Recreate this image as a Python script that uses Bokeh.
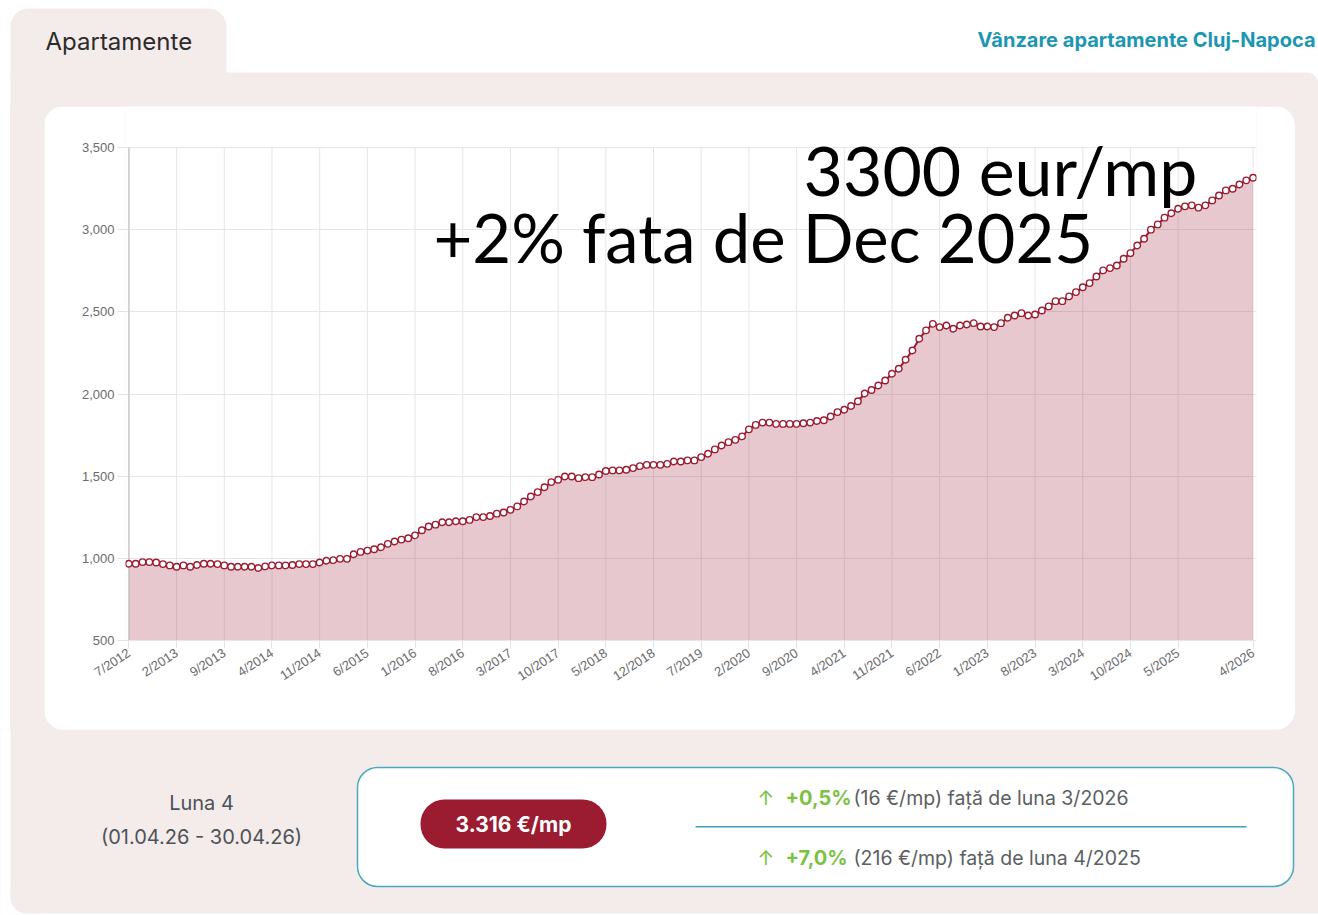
from bokeh.plotting import figure
from bokeh.layouts import column, row
from bokeh.models import (Range1d, FixedTicker, NumeralTickFormatter, BoxAnnotation,
                          Label, ColumnDataSource, Spacer)
from bokeh.embed import file_html
from bokeh.resources import INLINE

# ---------------- data (EUR / m², monthly, 7/2012 .. 4/2026) ----------------
prices = [
    967, 967, 977, 977, 975, 965, 957, 949, 957, 949, 959, 967,          # 7/2012-6/2013
    967, 965, 957, 949, 949, 949, 949, 941, 951, 957, 957, 957,          # 7/2013-6/2014
    959, 965, 965, 965, 975, 985, 989, 997, 997, 1025, 1039, 1047,       # 7/2014-6/2015
    1055, 1067, 1088, 1102, 1114, 1122, 1140, 1171, 1194, 1205, 1220, 1220,  # 7/2015-6/2016
    1226, 1226, 1234, 1251, 1251, 1258, 1272, 1279, 1295, 1316, 1346, 1376,  # 7/2016-6/2017
    1403, 1433, 1464, 1478, 1498, 1498, 1488, 1494, 1494, 1510, 1531, 1535,  # 7/2017-6/2018
    1535, 1539, 1549, 1561, 1569, 1569, 1569, 1575, 1589, 1589, 1596, 1596,  # 7/2018-6/2019
    1616, 1636, 1663, 1687, 1707, 1721, 1742, 1785, 1812, 1826, 1826, 1818,  # 7/2019-6/2020
    1818, 1818, 1818, 1822, 1826, 1836, 1840, 1863, 1890, 1904, 1927, 1956,  # 7/2020-6/2021
    2003, 2024, 2052, 2082, 2123, 2154, 2208, 2265, 2336, 2387, 2427, 2407,  # 7/2021-6/2022
    2417, 2397, 2417, 2423, 2431, 2411, 2411, 2407, 2431, 2464, 2478, 2492,  # 7/2022-6/2023
    2478, 2484, 2508, 2533, 2565, 2565, 2594, 2620, 2650, 2675, 2715, 2752,  # 7/2023-6/2024
    2766, 2782, 2823, 2857, 2904, 2945, 3000, 3032, 3073, 3100, 3127, 3142,  # 7/2024-6/2025
    3148, 3134, 3148, 3178, 3208, 3239, 3249, 3275, 3300, 3316,              # 7/2025-4/2026
]

# month label of every point
months = []
yy, mm = 2012, 7
for _ in prices:
    months.append(f"{mm}/{yy}")
    mm += 1
    if mm > 12:
        mm, yy = 1, yy + 1

x_tick_labels = ["7/2012", "2/2013", "9/2013", "4/2014", "11/2014", "6/2015", "1/2016",
                 "8/2016", "3/2017", "10/2017", "5/2018", "12/2018", "7/2019", "2/2020",
                 "9/2020", "4/2021", "11/2021", "6/2022", "1/2023", "8/2023", "3/2024",
                 "10/2024", "5/2025", "4/2026"]
y_ticks = [500, 1000, 1500, 2000, 2500, 3000, 3500]

tab_title = "Apartamente"
link_text = "Vânzare apartamente Cluj-Napoca"
headline_1 = "3300 eur/mp"
headline_2 = "+2% fata de Dec 2025"
current_price = "3.316 €/mp"
period_title = "Luna 4"
period_range = "(01.04.26 - 30.04.26)"
change_pct = ["+0,5%", "+7,0%"]
change_txt = ["(16 €/mp) față de luna 3/2026", "(216 €/mp) față de luna 4/2025"]

# ---------------- styling ----------------
RED = "#9b1b31"
PINK = "#f4eceb"
TEAL = "#1d96b2"
GREEN = "#7cc242"
GREY_TXT = "#5b5e62"
UI_FONT = "Inter"

W, H = 1318, 915
CARD_L, CARD_R, CARD_T, CARD_B = 44, 1295, 106, 730      # white chart card (page px)
FL, FR, FT, FB = 125, 1256, 147, 640                     # plot area (page px)


def plain_fig(w, h, bg):
    f = figure(width=w, height=h, output_backend="svg", toolbar_location=None,
               x_range=Range1d(0, w), y_range=Range1d(h, 0), title=None,
               x_axis_location=None, y_axis_location=None, min_border=0)
    f.outline_line_color = None
    f.grid.visible = False
    f.background_fill_color = bg
    f.border_fill_color = bg
    return f


def box(f, l, r, t, b, color, radius=0, line=None, lw=1.0):
    f.add_layout(BoxAnnotation(left=l, right=r, top=t, bottom=b,
                               fill_color=color, fill_alpha=1.0,
                               line_color=line, line_width=lw, line_alpha=1.0 if line else 0,
                               border_radius=radius, level="annotation"))


def label(f, x, y, text, size, color, font=UI_FONT, style="normal", align="left",
          baseline="middle", **kw):
    f.add_layout(Label(x=x, y=y, text=text, text_font=font, text_font_size=f"{size}px",
                       text_color=color, text_font_style=style, text_align=align,
                       text_baseline=baseline, level="overlay", **kw))


# ---------------- header (page y 0..106) ----------------
head = plain_fig(W, CARD_T, "white")
box(head, 10, W, 72, CARD_T + 30, PINK, radius=(0, 12, 0, 0))
box(head, 10, 226, 8, 80, PINK, radius=(18, 18, 0, 0))
label(head, 45, 41, tab_title, 24, "#2b2b2b")
label(head, 1315, 39, link_text, 20, TEAL, style="bold", align="right")

# ---------------- chart card ----------------
px_per_unit = (FB - FT) / (y_ticks[-1] - y_ticks[0])
y_top = y_ticks[-1] + (FT - CARD_T) / px_per_unit

xs = list(range(len(prices)))
src = ColumnDataSource(dict(x=xs, price=prices, month=months))

p = figure(width=CARD_R - CARD_L, height=CARD_B - CARD_T, output_backend="svg",
           toolbar_location=None, title=None,
           x_range=Range1d(-0.5, len(prices) - 0.5), y_range=Range1d(y_ticks[0], y_top),
           min_border_left=FL - CARD_L, min_border_right=CARD_R - FR,
           min_border_top=0, min_border_bottom=CARD_B - FB)
p.outline_line_color = None
p.border_fill_color = "white"
p.background_fill_color = "white"
p.styles = {"border-radius": "20px", "overflow": "hidden"}

tick_idx = [months.index(t) for t in x_tick_labels]

# vertical grid lines (between the 500 and 3500 levels)
p.segment(x0=tick_idx, y0=[y_ticks[0]] * len(tick_idx), x1=tick_idx,
          y1=[y_ticks[-1]] * len(tick_idx), line_color="#e6e6e6", line_width=1)
# series
p.varea(x="x", y1=y_ticks[0], y2="price", source=src, fill_color=RED, fill_alpha=0.24)
p.segment(x0=[0], y0=[y_ticks[0]], x1=[0], y1=[y_ticks[-1]], line_color="#c2c2c2",
          line_width=1.2)
p.line(x="x", y="price", source=src, line_color=RED, line_width=2)
p.scatter(x="x", y="price", source=src, size=6.5, fill_color="white",
          line_color=RED, line_width=1.4)

# axes
p.xgrid.visible = False
p.ygrid.grid_line_color = "#e6e6e6"
p.xaxis.ticker = FixedTicker(ticks=tick_idx)
p.xaxis.major_label_overrides = {i: t for i, t in zip(tick_idx, x_tick_labels)}
p.xaxis.major_label_orientation = 0.58
p.yaxis.ticker = FixedTicker(ticks=y_ticks)
p.yaxis.formatter = NumeralTickFormatter(format="0,0")
for ax in (p.xaxis[0], p.yaxis[0]):
    ax.major_label_text_font = "Liberation Sans"
    ax.major_label_text_font_size = "13px"
    ax.major_label_text_color = "#6b6b6b"
    ax.major_tick_in = 0
    ax.major_tick_out = 8
    ax.major_tick_line_color = "#e2e2e2"
    ax.minor_tick_line_color = None
    ax.major_label_standoff = 3
p.yaxis.axis_line_color = None
p.xaxis.axis_line_color = "#e6e6e6"

# big annotation texts (screen units: from plot-area left / bottom)
label(p, 803 - FL, FB - 168.5, headline_1, 68, "black", font="Lato",
      baseline="alphabetic", x_units="screen", y_units="screen")
label(p, 433 - FL, FB - 236.5, headline_2, 67, "black", font="Lato",
      baseline="alphabetic", x_units="screen", y_units="screen")

# ---------------- bottom info row (page y 729..915, overlapping 1px) ----------------
BT = CARD_B - 1
foot = plain_fig(W, H - BT, PINK)
box(foot, -5, 10, -5, H - BT + 5, "white")
box(foot, -5, W + 5, 913 - BT, H - BT + 5, "white")
box(foot, 0, 26, 913 - BT - 16, 913 - BT, "white")
box(foot, 10, 40, 913 - BT - 30, 913 - BT, PINK, radius=(0, 0, 0, 16))
box(foot, 44, 1295, -30, 0.5, "white", radius=(0, 0, 20, 20))
box(foot, 357, 1293, 767 - BT, 886 - BT, "white", radius=20, line="#4aa9be", lw=1.5)
box(foot, 420, 606, 799 - BT, 848 - BT, RED, radius=24)
box(foot, 695, 1246, 825.5 - BT, 827 - BT, "#3aa2ba")
label(foot, 201, 802 - BT, period_title, 20, "#4d5257", align="center")
label(foot, 201, 836 - BT, period_range, 20, "#4d5257", align="center")
label(foot, 513, 824 - BT, current_price, 21, "white", style="bold", align="center")
for k, yrow in enumerate([797, 857]):
    label(foot, 757, yrow - BT, "↑", 20, GREEN)
    label(foot, 785, yrow - BT, change_pct[k], 20, GREEN, style="bold")
    label(foot, 853, yrow - BT, change_txt[k], 19.5, GREY_TXT)
foot.styles = {"margin-top": "-1px"}

mid_bg = f"linear-gradient(to right, white 0px, white 10px, {PINK} 10px, {PINK} 100%)"
middle = row(Spacer(width=CARD_L, height=CARD_B - CARD_T), p,
             Spacer(width=W - CARD_R, height=CARD_B - CARD_T),
             spacing=0, styles={"background": mid_bg})
layout = column(head, middle, foot, spacing=0)

open("out.html", "w").write(file_html(layout, INLINE))
